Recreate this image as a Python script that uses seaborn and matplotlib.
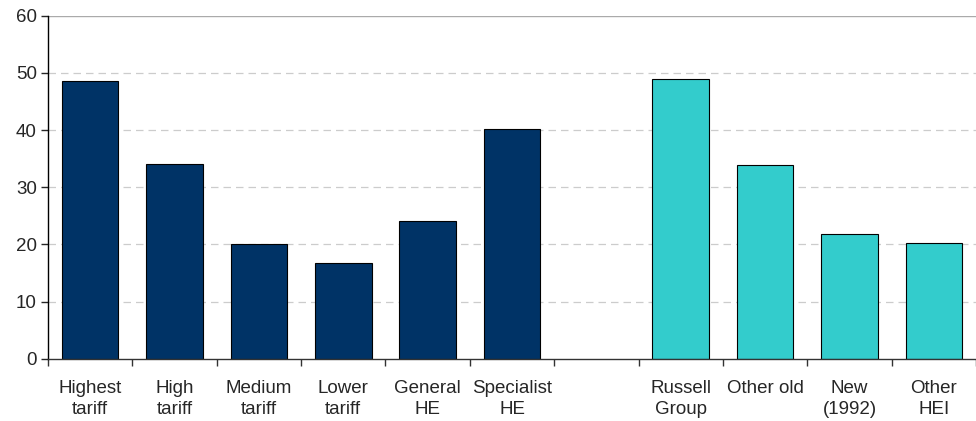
import numpy as np
import pandas as pd
import seaborn as sns
import matplotlib.pyplot as plt

# data
labels = ['Highest\ntariff', 'High\ntariff', 'Medium\ntariff', 'Lower\ntariff',
          'General\nHE', 'Specialist\nHE', ' ',
          'Russell\nGroup', 'Other old', 'New\n(1992)', 'Other\nHEI']
values = [48.6, 34.1, 20.0, 16.7, 24.1, 40.2, np.nan, 49.0, 33.8, 21.8, 20.2]
groups = ['tariff'] * 6 + ['gap'] + ['type'] * 4
colors = {'tariff': '#003366', 'gap': '#ffffff', 'type': '#33CCCC'}

df = pd.DataFrame({'label': labels, 'value': values, 'group': groups})

sns.set_style('white')
plt.rcParams['font.family'] = ['Liberation Sans', 'DejaVu Sans']

fig = plt.figure(figsize=(9.76, 4.21), dpi=100)
ax = fig.add_axes([0.0492, 0.148, 0.9508, 0.8148])

sns.barplot(data=df, x='label', y='value', hue='group', order=labels,
            palette=colors, saturation=1, width=0.67, edgecolor='black',
            linewidth=0.8, dodge=False, legend=False, ax=ax)

ax.set_ylim(0, 60)
ax.set_xlim(-0.5, 10.42)
ax.set_yticks(range(0, 61, 10))
for y in range(10, 60, 10):
    ax.axhline(y, color='#cccccc', lw=0.9, ls=(0, (6, 4)), zorder=0)
ax.axhline(60, color='#aaaaaa', lw=1.0, zorder=0)

ax.set_xlabel('')
ax.set_ylabel('')
for s in ['top', 'right']:
    ax.spines[s].set_visible(False)
ax.spines['left'].set_color('black')
ax.spines['bottom'].set_color('#333333')
ax.spines['left'].set_linewidth(1.0)
ax.spines['bottom'].set_linewidth(1.0)

ax.set_xticks(np.arange(-0.5, 11, 1), minor=True)
ax.tick_params(axis='x', which='major', length=0, pad=15, labelsize=13.5)
ax.tick_params(axis='x', which='minor', length=5, width=1, color='#333333',
               direction='out', bottom=True)
ax.tick_params(axis='y', length=5, width=1, direction='out', left=True,
               labelsize=13.5, pad=3)
for t in ax.get_xticklabels():
    t.set_linespacing(1.35)

fig.savefig('out.png', dpi=100)
